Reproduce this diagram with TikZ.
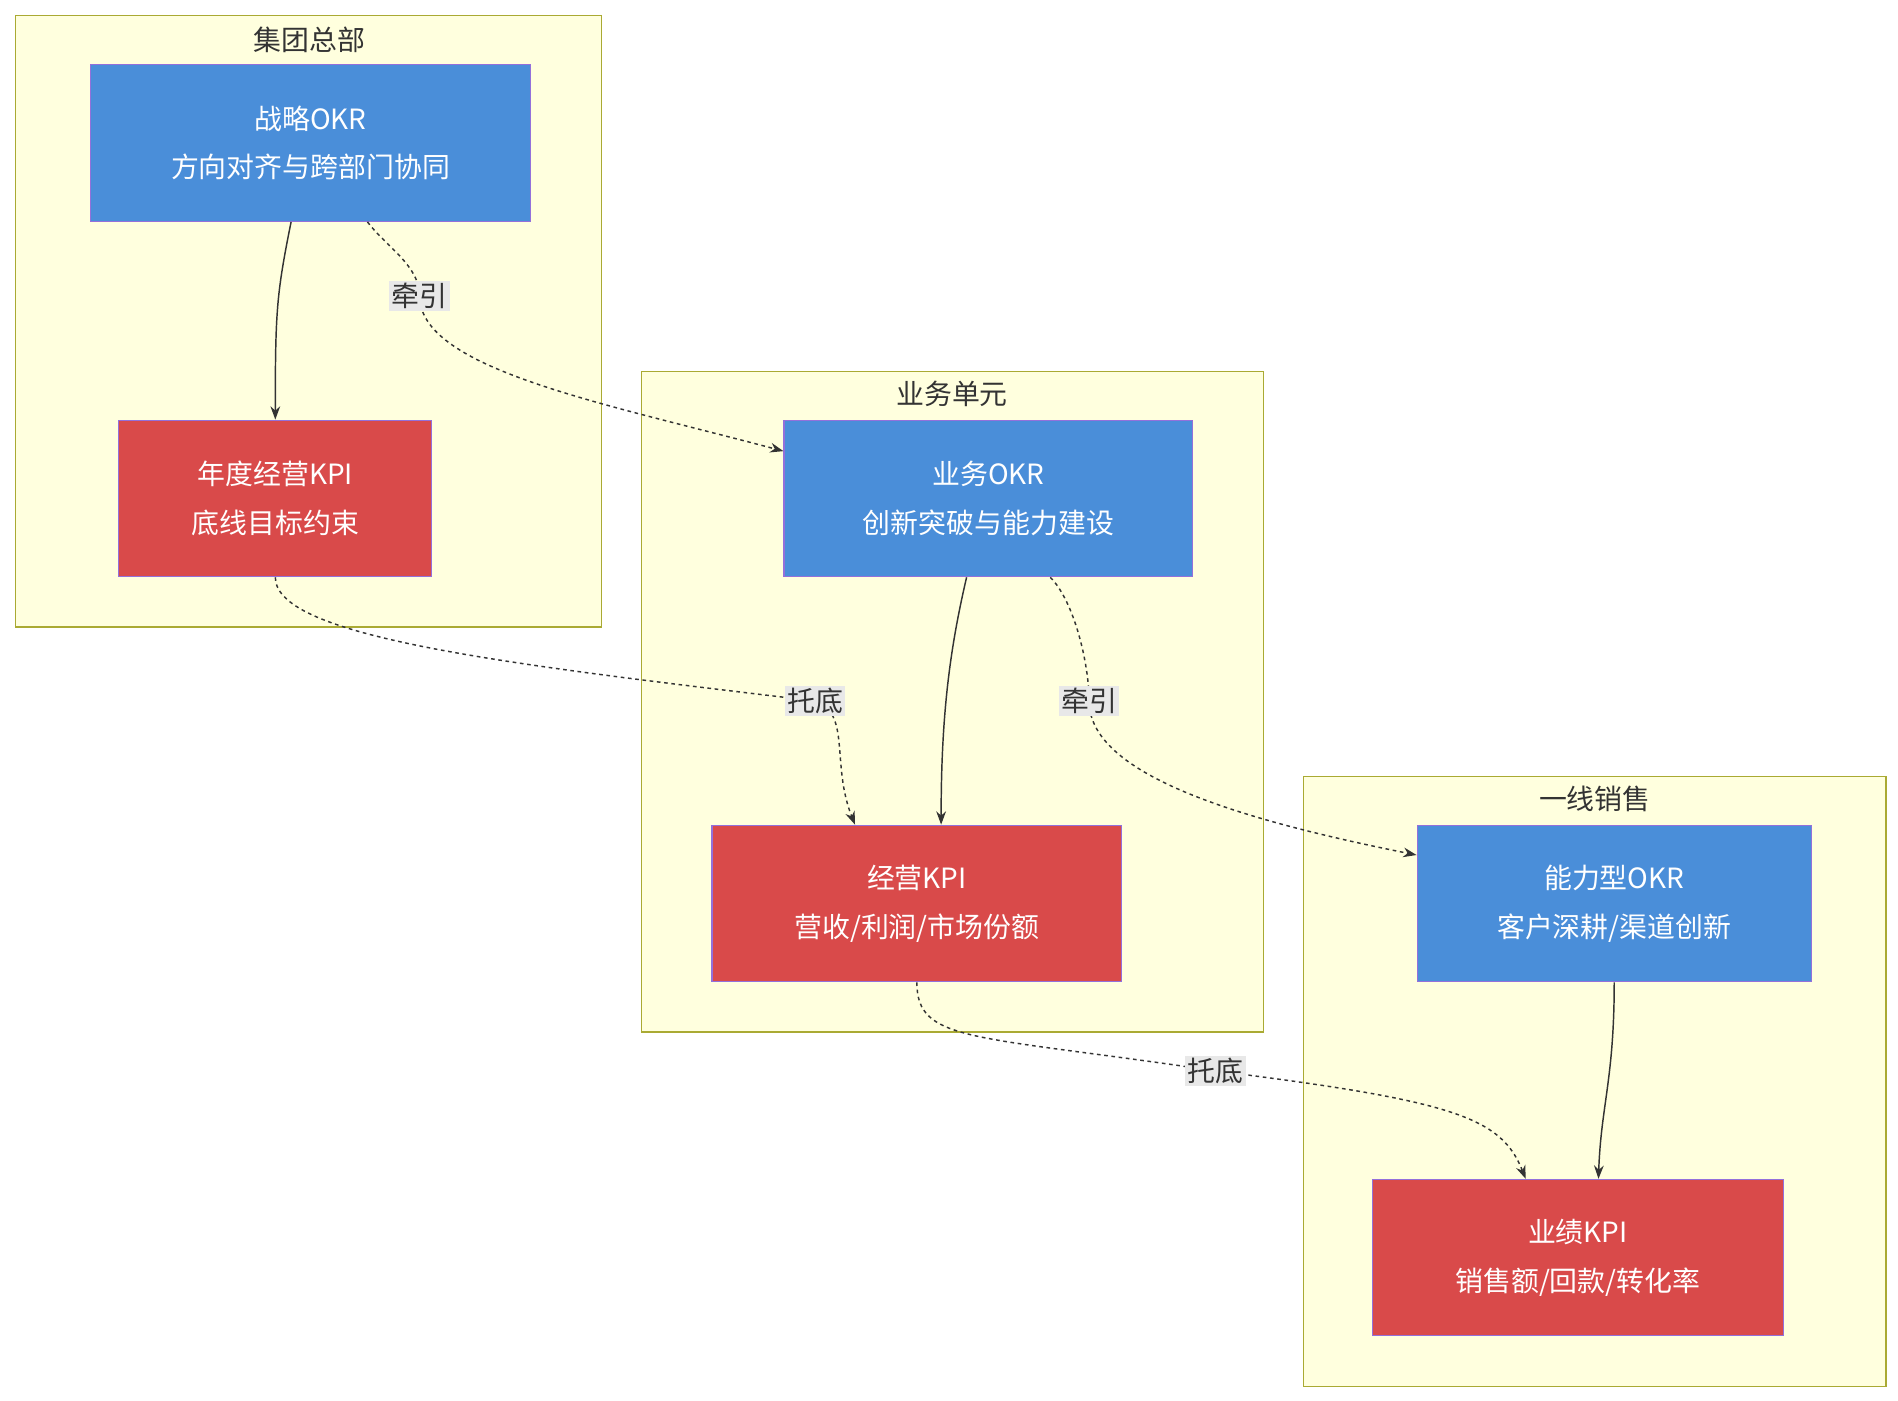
\documentclass[tikz,border=0pt]{standalone}
\usepackage{fontspec}
\setmainfont{Noto Sans CJK SC}
\usetikzlibrary{calc,arrows.meta}
\definecolor{okr}{HTML}{4A8ED9}
\definecolor{kpi}{HTML}{D94A4A}
\definecolor{nb}{HTML}{9370DB}
\definecolor{cf}{HTML}{FFFFDE}
\definecolor{cb}{HTML}{AAAA33}
\definecolor{ln}{HTML}{333333}
\begin{document}
\begin{tikzpicture}[x=1pt,y=-1pt,
  cl/.style={draw=cb,fill=cf,line width=1pt},
  ct/.style={font=\fontsize{23}{26}\selectfont,text=ln},
  box/.style={draw=nb,line width=1pt,text=white,align=center,font=\fontsize{23}{40}\selectfont,inner sep=0pt},
  ok/.style={box,fill=okr},
  kp/.style={box,fill=kpi},
  lb/.style={fill=black!9,text=ln,font=\fontsize{23}{26}\selectfont,inner sep=2pt},
  so/.style={draw=ln,line width=1.2pt,-{Stealth[length=11pt,width=8pt]}},
  da/.style={so,dash pattern=on 3pt off 3pt}]
\useasboundingbox (0,0) rectangle (1565,1155);
\draw[cl] (13,13) rectangle (496,517);
\node[ct] (t1) at (255,33) {集团总部};
\draw[cl] (529,306) rectangle (1042,851);
\node[ct] (t2) at (785,325) {业务单元};
\draw[cl] (1075,640) rectangle (1555,1143);
\node[ct] (t3) at (1315,659) {一线销售};
\node[ok,minimum width=363pt,minimum height=129pt] (A) at (256,118) {战略OKR\\方向对齐与跨部门协同};
\node[kp,minimum width=258pt,minimum height=129pt] (B) at (227,411) {年度经营KPI\\底线目标约束};
\node[ok,minimum width=337pt,minimum height=129pt] (C) at (815,411) {业务OKR\\创新突破与能力建设};
\node[kp,minimum width=338pt,minimum height=129pt] (D) at (756,745) {经营KPI\\营收/利润/市场份额};
\node[ok,minimum width=325pt,minimum height=129pt] (E) at (1331,745) {能力型OKR\\客户深耕/渠道创新};
\node[kp,minimum width=339pt,minimum height=129pt] (F) at (1301,1037) {业绩KPI\\销售额/回款/转化率};
\node[lb] (l1) at (346,244) {牵引};
\node[lb] (l2) at (672,578) {托底};
\node[lb] (l3) at (898,578) {牵引};
\node[lb] (l4) at (1002,883) {托底};
% solid
\draw[so] ($(A.south)+(-16,0)$) .. controls +(-12,60) and +(0,-90) .. ($(B.north)$);
\draw[so] ($(C.south)+(-18,0)$) .. controls +(-14,60) and +(0,-90) .. ($(D.north)+(20,0)$);
\draw[so] ($(E.south)+(0,0)$) .. controls +(0,80) and +(2,-60) .. ($(F.north)+(17,0)$);
% dashed
\draw[da] ($(A.south)+(47,0)$) .. controls +(15,20) and +(0,-25) .. (l1.center)
  .. controls +(0,60) and +(-150,-40) .. ($(C.west)+(0,-39)$);
\draw[da] (B.south) .. controls +(0,50) and +(-250,-30) .. (l2.center)
  .. controls +(30,10) and +(-20,-50) .. ($(D.north)+(-51,0)$);
\draw[da] ($(C.south)+(51,0)$) .. controls +(20,20) and +(0,-30) .. (l3.center)
  .. controls +(0,60) and +(-150,-30) .. ($(E.west)+(0,-40)$);
\draw[da] (D.south) .. controls +(0,50) and +(-200,-30) .. (l4.center)
  .. controls +(200,25) and +(-20,-50) .. ($(F.north)+(-43,0)$);
\foreach \l in {l1,l2,l3,l4} \node[lb] at (\l) {\ifx\l l1 牵引\fi};
\node[lb] at (l1) {牵引};
\node[lb] at (l2) {托底};
\node[lb] at (l3) {牵引};
\node[lb] at (l4) {托底};
\end{tikzpicture}
\end{document}
